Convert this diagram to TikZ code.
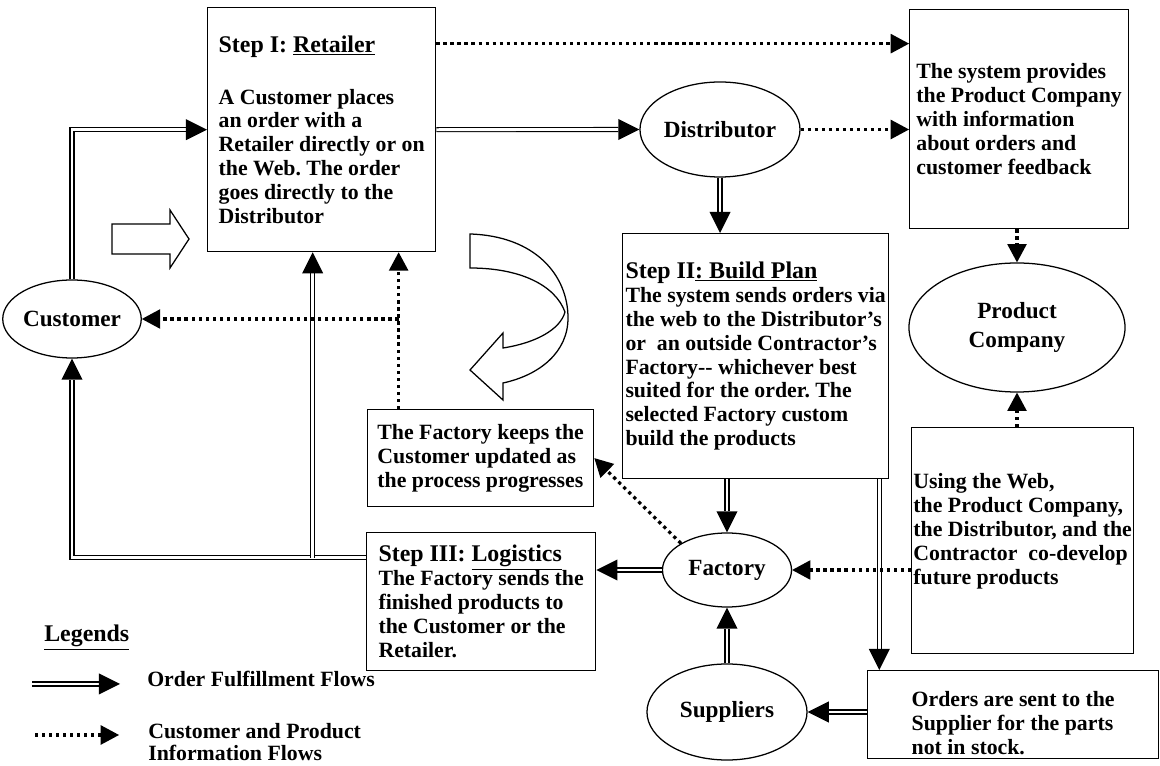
\documentclass[tikz,border=0pt]{standalone}
\usepackage{fontspec}
\setmainfont{Liberation Serif}
\usetikzlibrary{arrows.meta,shapes.geometric}
\frenchspacing

\tikzset{
  box/.style={draw, rectangle, anchor=north west, align=left, inner sep=0pt,
    line width=0.9pt, font=\fontsize{15.5}{17}\selectfont\bfseries},
  oval/.style={draw, ellipse, inner sep=0pt, line width=0.9pt, align=center,
    font=\fontsize{16.5}{20}\selectfont\bfseries},
  flow/.style={double, double distance=2pt, line width=0.8pt,
    -{Triangle[length=15pt,width=15pt,line width=0pt]}},
  info/.style={line width=2.3pt, dash pattern=on 2.3pt off 2.7pt,
    -{Triangle[length=13pt,width=14pt,line width=0pt]}},
  hollow/.style={draw, fill=white, line width=0.9pt, line join=miter},
  legtext/.style={anchor=base west, align=left, inner sep=0pt,
    font=\fontsize{15.5}{16}\selectfont\bfseries}
}
\newcommand{\steptitle}{\fontsize{17}{19}\selectfont}

\begin{document}
\begin{tikzpicture}[x=0.025cm, y=-0.025cm]
  \useasboundingbox (0,0) rectangle (1160,766);

  % boxes
  \node[box, minimum width=5.7cm, minimum height=6.1cm] (ret) at (207,7)
    {{\steptitle Step I: \underline{Retailer}}\\[20pt]
     A Customer places\\an order with a\\Retailer directly or on\\
     the Web. The order\\goes directly to the\\Distributor};
  \node[box, minimum width=5.475cm, minimum height=5.475cm] (sys) at (909,9)
    {The system provides\\the Product Company\\with information\\
     about orders and\\customer feedback};
  \node[box, minimum width=6.65cm, minimum height=6.125cm] (plan) at (622,233)
    {{\steptitle Step II\underline{: Build Plan}}\\
     The system sends orders via\\the web to the Distributor's\\
     or\ \ an outside Contractor's\\Factory-{}- whichever best\\
     suited for the order. The\\selected Factory custom\\build the products};
  \node[box, minimum width=5.65cm, minimum height=2.425cm] (keep) at (367,409)
    {The Factory keeps the\\Customer updated as\\the process progresses};
  \node[box, minimum width=5.725cm, minimum height=3.45cm] (log) at (366,532)
    {{\steptitle Step III: \underline{Logistics}}\\
     The Factory sends the\\finished products to\\the Customer or the\\Retailer.};
  \node[box, minimum width=5.55cm, minimum height=5.65cm] (web) at (911,427)
    {Using the Web,\\the Product Company,\\the Distributor, and the\\
     Contractor\ \ co-develop\\future products\\ \mbox{}};
  \node[box, minimum width=7.275cm, minimum height=2.2cm] (ord) at (867,670)
    {\mbox{}\\[6pt]Orders are sent to the\\Supplier for the parts\\not in stock.};

  % ovals
  \node[oval, minimum width=3.2cm, minimum height=1.95cm] (cust) at (72,319) {Customer};
  \node[oval, minimum width=4cm, minimum height=2.375cm] (dist) at (720,129.5) {Distributor};
  \node[oval, minimum width=5.4cm, minimum height=3.225cm] (prod) at (1017,327.5) {Product\\Company};
  \node[oval, minimum width=3.225cm, minimum height=1.85cm] (fac) at (727,570) {Factory};
  \node[oval, minimum width=4cm, minimum height=2.4cm] (supp) at (727,712) {Suppliers};

  % hollow arrows
  \draw[hollow] (112,224) -- (170,224) -- (170,210) -- (189,239) -- (170,268)
    -- (170,254) -- (112,254) -- cycle;
  \draw[hollow] (470,234) .. controls (535,236) and (568,275) .. (568,318)
    .. controls (568,352) and (540,375) .. (503,383) -- (503,400) -- (470,370)
    -- (503,333) -- (503,348) .. controls (535,343) and (560,330) .. (565,312)
    .. controls (555,285) and (520,268) .. (470,268) -- cycle;

  % order fulfillment flows
  \coordinate (l1) at ([yshift=1.1cm]log.west);
  \coordinate (r1) at ([xshift=-0.225cm]ret.south);
  \coordinate (p1) at ([xshift=-0.25cm]plan.south east);
  \draw[flow] (cust.north) |- (ret.west);
  \draw[flow] (ret.east) -- (dist.west);
  \draw[flow] (dist.south) -- (dist.south |- plan.north);
  \draw[flow] (fac.north |- plan.south) -- (fac.north);
  \draw[flow] (supp.north) -- (fac.south);
  \draw[flow] (p1) -- (p1 |- ord.north);
  \draw[flow] (supp.east -| ord.west) -- (supp.east);
  \draw[flow] (fac.west) -- (fac.west -| log.east);
  \draw[flow] (l1) -| (cust.south);
  \draw[flow] (r1 |- l1) -- (r1);

  % information flows
  \coordinate (a1) at ([yshift=2.15cm]ret.east);
  \coordinate (k1) at ([xshift=-2.05cm]keep.north);
  \draw[info] (a1) -- (a1 -| sys.west);
  \draw[info] (dist.east) -- (dist.east -| sys.west);
  \draw[info] (sys.south -| prod.north) -- (prod.north);
  \draw[info] (prod.south |- web.north) -- (prod.south);
  \draw[info] (fac.east -| web.west) -- (fac.east);
  \draw[info] (fac.north west) -- (keep.east);
  \draw[info] (k1) -- (k1 |- ret.south);
  \draw[info] (k1 |- cust.east) -- (cust.east);

  % legend
  \node[anchor=base west, inner sep=0pt, font=\fontsize{17}{20}\selectfont\bfseries]
    (leg) at (44,642) {\underline{Legends}};
  \coordinate (fa) at (32,684);
  \coordinate (fb) at (120,684);
  \coordinate (ia) at (35,735);
  \coordinate (ib) at (119,735);
  \draw[flow] (fa) -- (fb);
  \draw[info] (ia) -- (ib);
  \node[legtext] (flab) at (147,687) {Order Fulfillment Flows};
  \node[legtext] (ilab) at (148,761) {Customer and Product\\Information Flows};
\end{tikzpicture}
\end{document}
